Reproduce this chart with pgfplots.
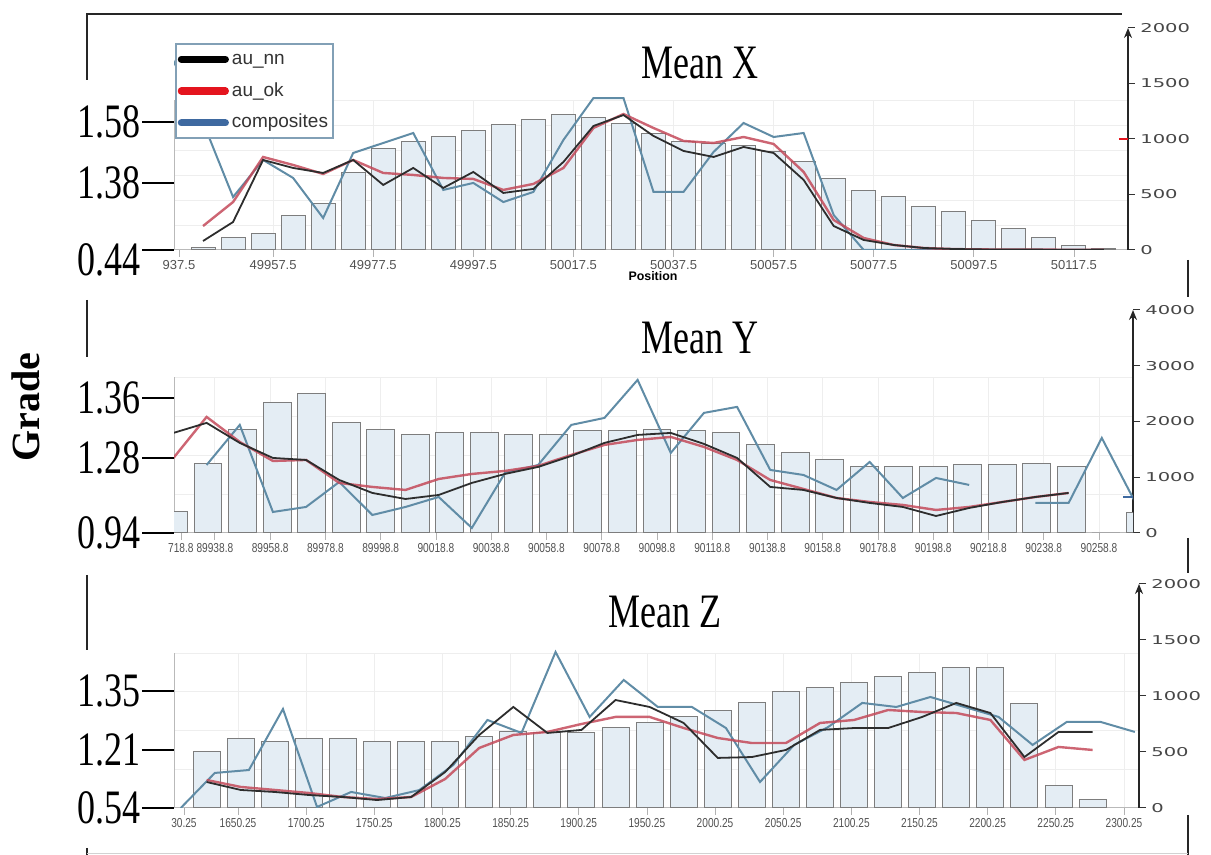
\documentclass[border=0pt]{standalone}
\usepackage{pgfplots}
\pgfplotsset{compat=1.18}
\usepackage{pgfplotstable}
\usepackage{graphicx}
\usepackage{fontspec}
\setmainfont{Liberation Serif}
\newfontfamily\lsans{Liberation Sans}
\newfontfamily\dsans{DejaVu Sans}
\usetikzlibrary{arrows.meta}

\definecolor{barfill}{RGB}{228,237,244}
\definecolor{bardraw}{RGB}{125,125,125}
\definecolor{compc}{RGB}{96,140,166}
\definecolor{nnc}{RGB}{45,45,45}
\definecolor{okc}{RGB}{196,74,90}
\definecolor{legred}{RGB}{228,20,30}
\definecolor{legblue}{RGB}{62,105,160}
\definecolor{legframe}{RGB}{130,160,182}

\newcommand\sq[1]{\scalebox{0.75}[1]{#1}}
\newcommand\sw[1]{\scalebox{1.6}[1]{#1}}
\newcommand\sx[1]{\scalebox{0.78}[1]{#1}}
\newcommand\ttl[1]{{\fontsize{24}{24}\selectfont\sq{#1}}}

\pgfplotsset{
  panel/.style={scale only axis, anchor=south west, scaled ticks=false},
  gridax/.style={panel, axis x line*=bottom, axis y line*=left,
    x axis line style={draw=none}, y axis line style={draw=gray!55, line width=0.5pt},
    xticklabels={}, yticklabels={}, major tick length=0pt,
    grid=major, major grid style={draw=gray!13, line width=0.4pt}},
  dataax/.style={panel, axis x line*=bottom, axis y line*=right,
    x axis line style={draw=gray!55, line width=0.5pt},
    y axis line style={draw=black!85, line width=0.9pt, -{Stealth[length=5pt,width=4pt]}},
    tick align=outside, major tick length=3.5pt,
    xtick style={draw=gray!60, line width=0.4pt},
    ytick style={draw=black!80, line width=0.5pt},
    xticklabel style={font=\lsans\fontsize{6.5}{7}\selectfont, text=black!68, inner sep=1.5pt},
    yticklabel style={font=\dsans\fontsize{6.1}{6.5}\selectfont, text=black!72, inner sep=2.5pt},
    unbounded coords=jump},
  leftax/.style={panel, axis x line=none, axis y line*=left, y axis line style={draw=none},
    tick align=outside, major tick length=16pt, ytick style={draw=black, line width=0.6pt},
    yticklabel style={font=\fontsize{24}{24}\selectfont, inner sep=0.5pt}},
  bars/.style={ybar, fill=barfill, draw=bardraw, line width=0.5pt, forget plot},
  comp/.style={color=compc, line width=1pt, forget plot},
  ok/.style={color=okc, line width=1.2pt, opacity=0.85, forget plot},
  nn/.style={color=nnc, line width=0.9pt, forget plot},
}

% ---------- Mean X ----------
\pgfplotstableread{
x y
49943.5 25
49949.5 110
49955.5 145
49961.5 315
49967.5 420
49973.5 700
49979.5 915
49985.5 975
49991.5 1025
49997.5 1075
50003.5 1135
50009.5 1180
50015.5 1225
50021.5 1190
50027.5 1140
50033.5 1045
50039.5 975
50045.5 960
50051.5 945
50057.5 890
50063.5 795
50069.5 640
50075.5 540
50081.5 480
50087.5 390
50093.5 345
50099.5 265
50105.5 195
50111.5 115
50117.5 40
50123.5 10
}\barsX
\pgfplotstableread{
x y
49937.5 1712
49943.5 1150
49949.5 477
49955.5 811
49961.5 649
49967.5 288
49973.5 874
49979.5 964
49985.5 1054
49991.5 541
49997.5 604
50003.5 432
50009.5 523
50015.5 991
50021.5 1369
50027.5 1369
50033.5 523
50039.5 523
50045.5 883
50051.5 1144
50057.5 1018
50063.5 1054
50069.5 315
50075.5 0
50081.5 0
50087.5 0
50093.5 0
50099.5 0
50105.5 0
50111.5 0
50117.5 0
50123.5 0
}\compX
\pgfplotstableread{
x y
49943.5 81
49949.5 252
49955.5 811
49961.5 739
49967.5 694
49973.5 811
49979.5 586
49985.5 739
49991.5 559
49997.5 703
50003.5 514
50009.5 550
50015.5 793
50021.5 1117
50027.5 1216
50033.5 1027
50039.5 892
50045.5 838
50051.5 928
50057.5 874
50063.5 631
50069.5 216
50075.5 90
50081.5 45
50087.5 18
50093.5 9
50099.5 5
50105.5 4
50111.5 3
50117.5 2
50123.5 2
}\nnX
\pgfplotstableread{
x y
49943.5 216
49949.5 432
49955.5 838
49961.5 766
49967.5 685
49973.5 811
49979.5 694
49985.5 676
49991.5 649
49997.5 640
50003.5 541
50009.5 595
50015.5 739
50021.5 1099
50027.5 1225
50033.5 1099
50039.5 982
50045.5 964
50051.5 1018
50057.5 955
50063.5 703
50069.5 270
50075.5 108
50081.5 45
50087.5 18
50093.5 8
50099.5 5
50105.5 4
50111.5 3
50117.5 2
50123.5 2
}\okX

% ---------- Mean Y ----------
\pgfplotstableread{
x y
89923.8 377
89936.3 1239
89948.8 1849
89961.3 2334
89973.8 2495
89986.3 1975
89998.8 1849
90011.3 1759
90023.8 1795
90036.3 1795
90048.8 1759
90061.3 1759
90073.8 1831
90086.3 1831
90098.8 1849
90111.3 1831
90123.8 1795
90136.3 1580
90148.8 1436
90161.3 1310
90173.8 1185
90186.3 1185
90198.8 1185
90211.3 1220
90223.8 1220
90236.3 1239
90248.8 1185
90261.3 0
90273.8 360
}\barsY
\pgfplotstableread{
x y
89935.8 1220
89947.8 1939
89959.8 377
89971.8 467
89983.8 915
89995.8 323
90007.8 467
90019.8 646
90031.8 90
90043.8 1077
90055.8 1220
90067.8 1939
90079.8 2064
90091.8 2746
90103.8 1436
90115.8 2154
90127.8 2262
90139.8 1131
90151.8 1041
90163.8 772
90175.8 1274
90187.8 628
90199.8 987
90211.8 862
90223.8 nan
90235.8 539
90247.8 539
90259.8 1705
90271.8 560
}\compY
\pgfplotstableread{
x y
89923.8 1795
89935.8 1975
89947.8 1616
89959.8 1346
89971.8 1310
89983.8 951
89995.8 718
90007.8 610
90019.8 682
90031.8 898
90043.8 1059
90055.8 1185
90067.8 1382
90079.8 1616
90091.8 1759
90103.8 1795
90115.8 1598
90127.8 1346
90139.8 826
90151.8 772
90163.8 628
90175.8 539
90187.8 467
90199.8 305
90211.8 449
90223.8 556
90235.8 646
90247.8 718
}\nnY
\pgfplotstableread{
x y
89923.8 1346
89935.8 2082
89947.8 1633
89959.8 1292
89971.8 1310
89983.8 898
89995.8 826
90007.8 772
90019.8 969
90031.8 1059
90043.8 1113
90055.8 1203
90067.8 1400
90079.8 1580
90091.8 1669
90103.8 1723
90115.8 1544
90127.8 1310
90139.8 951
90151.8 790
90163.8 628
90175.8 556
90187.8 503
90199.8 413
90211.8 467
90223.8 556
90235.8 646
90247.8 718
}\okY

% ---------- Mean Z ----------
\pgfplotstableread{
x y
1627.25 500
1652.25 616
1677.25 598
1702.25 616
1727.25 616
1752.25 590
1777.25 598
1802.25 598
1827.25 634
1852.25 679
1877.25 678
1902.25 670
1927.25 723
1952.25 759
1977.25 813
2002.25 866
2027.25 946
2052.25 1036
2077.25 1072
2102.25 1116
2127.25 1170
2152.25 1206
2177.25 1250
2202.25 1250
2227.25 929
2252.25 205
2277.25 80
}\barsZ
\pgfplotstableread{
x y
1608.25 0
1633.25 313
1658.25 339
1683.25 884
1708.25 9
1733.25 143
1758.25 89
1783.25 160
1808.25 384
1833.25 786
1858.25 670
1883.25 1393
1908.25 813
1933.25 1143
1958.25 902
1983.25 902
2008.25 714
2033.25 232
2058.25 563
2083.25 723
2108.25 938
2133.25 902
2158.25 991
2183.25 902
2208.25 813
2233.25 563
2258.25 768
2283.25 768
2308.25 679
}\compZ
\pgfplotstableread{
x y
1627.25 232
1652.25 161
1677.25 143
1702.25 116
1727.25 98
1752.25 71
1777.25 98
1802.25 321
1827.25 652
1852.25 902
1877.25 670
1902.25 697
1927.25 964
1952.25 902
1977.25 759
2002.25 447
2027.25 455
2052.25 518
2077.25 697
2102.25 714
2127.25 714
2152.25 813
2177.25 938
2202.25 848
2227.25 455
2252.25 679
2277.25 679
}\nnZ
\pgfplotstableread{
x y
1627.25 250
1652.25 188
1677.25 161
1702.25 134
1727.25 98
1752.25 80
1777.25 98
1802.25 259
1827.25 536
1852.25 652
1877.25 679
1902.25 750
1927.25 813
1952.25 813
1977.25 714
2002.25 625
2027.25 580
2052.25 580
2077.25 759
2102.25 786
2127.25 875
2152.25 857
2177.25 848
2202.25 786
2227.25 429
2252.25 545
2277.25 518
}\okZ

\begin{document}
\begin{tikzpicture}
\path[use as bounding box] (0pt,0pt) rectangle (605.5pt,427.5pt);

% ===== Mean X =====
\begin{axis}[gridax, at={(87pt,302.5pt)}, width=477pt, height=75pt,
  xmin=49937.7, xmax=50128.3, ymin=0, ymax=1350,
  xtick={49957.5,49977.5,49997.5,50017.5,50037.5,50057.5,50077.5,50097.5,50117.5},
  ytick={225,450,675,900,1125,1350}]
\addplot[draw=none] coordinates {(49950,0)};
\end{axis}
\begin{axis}[dataax, at={(87pt,302.5pt)}, width=477pt, height=111pt,
  xmin=49937.7, xmax=50128.3, ymin=0, ymax=2000,
  xtick={49938.7,49957.5,49977.5,49997.5,50017.5,50037.5,50057.5,50077.5,50097.5,50117.5},
  xticklabels={937.5,49957.5,49977.5,49997.5,50017.5,50037.5,50057.5,50077.5,50097.5,50117.5},
  ytick={0,500,1000,1500,2000},
  yticklabels={\sw{0},\sw{500},\sw{1000},\sw{1500},\sw{2000}},
  legend style={at={(axis description cs:0.001,0.932)}, anchor=north west,
    draw=legframe, line width=0.8pt, fill=white,
    font=\lsans\fontsize{9.5}{10}\selectfont, text=black!80,
    inner xsep=1pt, inner ysep=1.5pt, row sep=3.5pt,
    nodes={inner sep=1.5pt, text depth=0.22em, text height=0.72em}},
  legend cell align=left,
  legend image code/.code={\draw[#1, line width=3.6pt, line cap=round] (1.8pt,0pt) -- (23.8pt,0pt);}]
\addplot[bars, bar width=4.8] table {\barsX};
\addplot[comp] table {\compX};
\addplot[ok] table {\okX};
\addplot[nn] table {\nnX};
\addplot[legred, line width=1pt, forget plot] coordinates {(50126.5,1000) (50128.3,1000)};
\addlegendimage{black}
\addlegendentry{au\_nn}
\addlegendimage{legred}
\addlegendentry{au\_ok}
\addlegendimage{legblue}
\addlegendentry{composites}
\end{axis}
\begin{axis}[leftax, at={(87pt,302.5pt)}, width=477pt, height=111pt,
  xmin=49937.7, xmax=50128.3, ymin=0, ymax=2000,
  ytick={604,1153}, yticklabels={\sq{1.38},\sq{1.58}},
  extra y ticks={0}, extra y tick labels={\sq{0.44}},
  extra y tick style={yticklabel style={yshift=-5pt}}]
\addplot[draw=none] coordinates {(49950,0)};
\end{axis}

% ===== Mean Y =====
\begin{axis}[gridax, at={(87pt,161pt)}, width=479.5pt, height=78pt,
  xmin=89924.0, xmax=90271.1, ymin=0, ymax=2800,
  xtick={89938.8,89958.8,89978.8,89998.8,90018.8,90038.8,90058.8,90078.8,90098.8,90118.8,90138.8,90158.8,90178.8,90198.8,90218.8,90238.8,90258.8},
  ytick={700,1400,2100,2800}]
\addplot[draw=none] coordinates {(89950,0)};
\end{axis}
\begin{axis}[dataax, at={(87pt,161pt)}, width=479.5pt, height=111.5pt,
  xmin=89924.0, xmax=90271.1, ymin=0, ymax=4000,
  xtick={89926.5,89938.8,89958.8,89978.8,89998.8,90018.8,90038.8,90058.8,90078.8,90098.8,90118.8,90138.8,90158.8,90178.8,90198.8,90218.8,90238.8,90258.8},
  xticklabels={\sx{718.8},\sx{89938.8},\sx{89958.8},\sx{89978.8},\sx{89998.8},\sx{90018.8},\sx{90038.8},\sx{90058.8},\sx{90078.8},\sx{90098.8},\sx{90118.8},\sx{90138.8},\sx{90158.8},\sx{90178.8},\sx{90198.8},\sx{90218.8},\sx{90238.8},\sx{90258.8}},
  ytick={0,1000,2000,3000,4000},
  yticklabels={\sw{0},\sw{1000},\sw{2000},\sw{3000},\sw{4000}}]
\addplot[bars, bar width=10.1] table {\barsY};
\addplot[comp] table {\compY};
\addplot[ok] table {\okY};
\addplot[nn] table {\nnY};
\addplot[legblue, line width=1pt, forget plot] coordinates {(90267.5,646) (90271.1,646)};
\end{axis}
\begin{axis}[leftax, at={(87pt,161pt)}, width=479.5pt, height=111.5pt,
  xmin=89924.0, xmax=90271.1, ymin=0, ymax=4000,
  ytick={0,1346,2423}, yticklabels={\sq{0.94},\sq{1.28},\sq{1.36}}]
\addplot[draw=none] coordinates {(89950,0)};
\end{axis}

% ===== Mean Z =====
\begin{axis}[gridax, at={(87pt,23.5pt)}, width=482.5pt, height=77.5pt,
  xmin=1603.3, xmax=2311.3, ymin=0, ymax=1384,
  xtick={1650.25,1700.25,1750.25,1800.25,1850.25,1900.25,1950.25,2000.25,2050.25,2100.25,2150.25,2200.25,2250.25,2300.25},
  ytick={346,692,1038,1384}]
\addplot[draw=none] coordinates {(1650,0)};
\end{axis}
\begin{axis}[dataax, at={(87pt,23.5pt)}, width=482.5pt, height=112pt,
  xmin=1603.3, xmax=2311.3, ymin=0, ymax=2000,
  xtick={1610.6,1650.25,1700.25,1750.25,1800.25,1850.25,1900.25,1950.25,2000.25,2050.25,2100.25,2150.25,2200.25,2250.25,2300.25},
  xticklabels={\sx{30.25},\sx{1650.25},\sx{1700.25},\sx{1750.25},\sx{1800.25},\sx{1850.25},\sx{1900.25},\sx{1950.25},\sx{2000.25},\sx{2050.25},\sx{2100.25},\sx{2150.25},\sx{2200.25},\sx{2250.25},\sx{2300.25}},
  ytick={0,500,1000,1500,2000},
  yticklabels={\sw{0},\sw{500},\sw{1000},\sw{1500},\sw{2000}}]
\addplot[bars, bar width=19.8] table {\barsZ};
\addplot[comp] table {\compZ};
\addplot[ok] table {\okZ};
\addplot[nn] table {\nnZ};
\end{axis}
\begin{axis}[leftax, at={(87pt,23.5pt)}, width=482.5pt, height=112pt,
  xmin=1603.3, xmax=2311.3, ymin=0, ymax=2000,
  ytick={0,518,1045}, yticklabels={\sq{0.54},\sq{1.21},\sq{1.35}}]
\addplot[draw=none] coordinates {(1650,0)};
\end{axis}

% titles and labels
\node[anchor=base west, inner sep=0] at (320.5pt,388pt) {\ttl{Mean X}};
\node[anchor=base west, inner sep=0] at (320.5pt,250.5pt) {\ttl{Mean Y}};
\node[anchor=base west, inner sep=0] at (304pt,113.5pt) {\ttl{Mean Z}};
\node[rotate=90, inner sep=0] at (13pt,224pt) {\fontsize{20}{20}\selectfont\bfseries Grade};
\node[inner sep=0] at (326.5pt,289.5pt) {\lsans\bfseries\fontsize{6.2}{6.2}\selectfont Position};

% outer frame pieces
\draw[black!85, line width=0.9pt] (43.5pt,387.5pt) -- (43.5pt,420.5pt) -- (561pt,420.5pt);
\draw[black!85, line width=0.9pt] (43.5pt,277.5pt) -- (43.5pt,249pt);
\draw[black!85, line width=0.9pt] (43.5pt,140pt) -- (43.5pt,102.5pt);
\draw[black!85, line width=0.9pt] (43.5pt,3.5pt) -- (43.5pt,0pt);
\draw[black!85, line width=0.9pt] (594pt,297.5pt) -- (594pt,279pt);
\draw[black!85, line width=0.9pt] (594pt,158.5pt) -- (594pt,141pt);
\draw[black!85, line width=0.9pt] (594pt,20pt) -- (594pt,0pt);
\draw[gray!35, line width=0.4pt] (43.5pt,1pt) -- (594pt,1pt);
\end{tikzpicture}
\end{document}
